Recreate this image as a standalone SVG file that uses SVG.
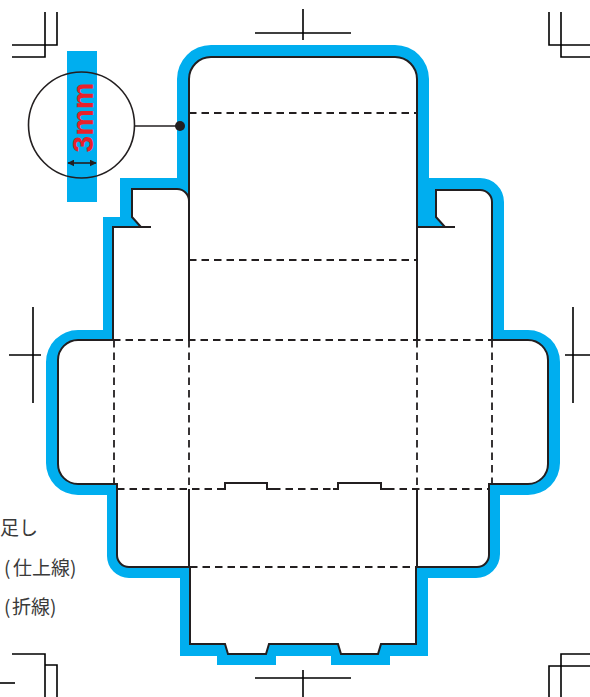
<svg xmlns="http://www.w3.org/2000/svg" width="590" height="697" viewBox="0 0 590 697">
<style>
.cut{fill:#ffffff;stroke:#231f20;stroke-width:2;stroke-linejoin:miter}
.solid{fill:none;stroke:#231f20;stroke-width:2}
.fold{fill:none;stroke:#231f20;stroke-width:1.8;stroke-dasharray:7.5 5}
.crop{fill:none;stroke:#000000;stroke-width:1.6}
.legend{font-family:"Noto Sans CJK JP","Noto Sans",sans-serif;font-size:19px;fill:#3a3a3a}
</style>
<defs>
<marker id="ah" viewBox="0 0 10 10" refX="9" refY="5" markerWidth="7" markerHeight="7" orient="auto-start-reverse" markerUnits="userSpaceOnUse">
<path d="M0,0 L10,5 L0,10 Z" fill="#231f20"/>
</marker>
</defs>
<rect width="590" height="697" fill="#ffffff"/>

<g id="crop-marks">
<path class="crop" d="M45,12 V57 H12 M57,12 V45 H12"/>
<path class="crop" d="M561,12 V57 H590 M549,12 V45 H590"/>
<path class="crop" d="M45,697 V654 H12 M57,697 V665 H45"/>
<path class="crop" d="M0,683 H15"/>
<path class="crop" d="M561,697 V654 H590 M549,697 V666 H590"/>
<path class="crop" d="M255,33 H351 M303,9 V40"/>
<path class="crop" d="M255,678 H351 M303,670 V697"/>
<path class="crop" d="M9,355 H41 M33,307 V403"/>
<path class="crop" d="M565,355 H590 M573,307 V403"/>
</g>

<g id="bleed">
<path fill="#00aeef" d="M177,79 A34,34 0 0 1 211,45 L395,45 A34,34 0 0 1 429,79 L429,178 L480,178 A24,24 0 0 1 504,202 L504,330 L528,330 A32,32 0 0 1 560,362 L560,463 A32,32 0 0 1 528,495 L500,495 L500,554 A24,24 0 0 1 476,578 L428,578 L428,656 L390,656 L390,665 L331,665 L331,656 L276,656 L276,665 L217,665 L217,656 L180,656 L180,578 L129,578 A22,22 0 0 1 107,556 L107,495 L78,495 A32,32 0 0 1 46,463 L46,362 A32,32 0 0 1 78,330 L103,330 L103,217 L120,217 L120,178 L177,178 Z"/>
</g>

<g id="dieline">
<path class="cut" d="M189,79 A22,22 0 0 1 211,57 L395,57 A22,22 0 0 1 417,79 L417,227 L445,227 L436,217 L436,190 L480,190 A12,12 0 0 1 492,202 L492,340 L528,340 A20,20 0 0 1 548,360 L548,464 A20,20 0 0 1 528,484 L489,484 L489,555 A12,12 0 0 1 477,567 L416,567 L416,644 L381,644 L378,654 L341,654 L338,644 L269,644 L266,654 L228,654 L225,644 L190,644 L190,567 L129,567 A12,12 0 0 1 117,555 L117,484 L78,484 A20,20 0 0 1 58,464 L58,360 A20,20 0 0 1 78,340 L113,340 L113,227 L141,227 L132,217 L132,189 L177,189 A12,12 0 0 1 189,201 Z"/>
</g>

<g id="connectors">
<path class="solid" d="M189,201 V340 M417,227 V340 M141,227 H151 M445,227 H455 M189,489 V567 M417,489 V567"/>
<path class="solid" d="M220,489 H225 V483 H267 V489 H273 M333,489 H338 V483 H381 V489 H387"/>
<path class="fold" d="M189,113 H417 M189,260 H417 M113,340 H492 M190,567 H416"/>
<path class="fold" d="M114,340 V484 M189,340 V489 M417,340 V489 M492,340 V484"/>
<path class="fold" d="M117,489 H220 M273,489 H333 M387,489 H489"/>
</g>

<g id="callout">
<rect x="67" y="51" width="30" height="151" fill="#00aeef"/>
<circle cx="81.5" cy="125" r="53" fill="none" stroke="#231f20" stroke-width="1.6"/>
<text transform="translate(92.5,117.5) rotate(-90)" text-anchor="middle" font-family="Liberation Sans, Arial, sans-serif" font-weight="bold" font-size="30" fill="#e8202a">3mm</text>
<line x1="68" y1="163" x2="96" y2="163" stroke="#231f20" stroke-width="1.6" marker-start="url(#ah)" marker-end="url(#ah)"/>
<line x1="134.5" y1="126" x2="180" y2="126" stroke="#231f20" stroke-width="1.6"/>
<circle cx="180" cy="126" r="5" fill="#231f20"/>
</g>

<g id="legend">
<text class="legend" x="0" y="535">足し</text>
<text class="legend" x="4" y="575">(<tspan x="13">仕上線</tspan>)</text>
<text class="legend" x="4" y="614">(<tspan x="12">折線</tspan>)</text>
</g>
</svg>
